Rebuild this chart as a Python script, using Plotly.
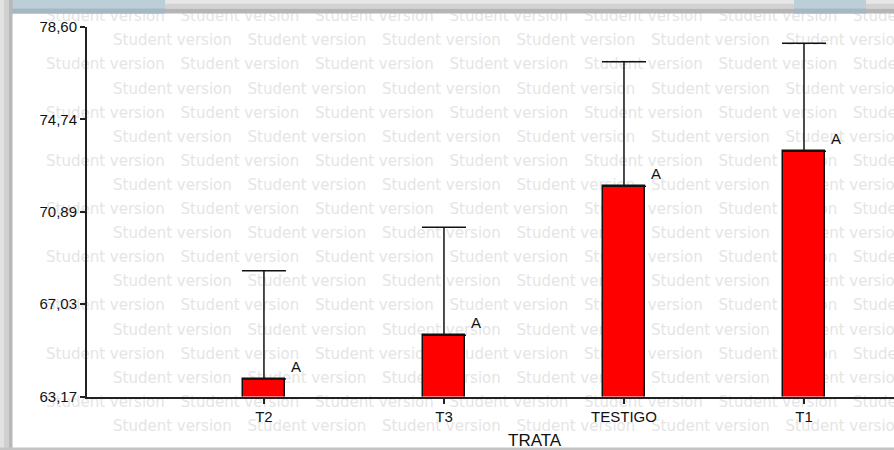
import plotly.graph_objects as go

# ---- data ----
categories = ["T2", "T3", "TESTIGO", "T1"]
means = [63.90, 65.73, 71.95, 73.41]
err_up = [4.52, 4.51, 5.20, 4.51]
letters = ["A", "A", "A", "A"]
ytick_vals = [63.17, 67.03, 70.89, 74.74, 78.60]
ytick_text = ["63,17", "67,03", "70,89", "74,74", "78,60"]
x_title = "TRATA"
watermark = "Student version"

W, H = 894, 450
xpos = list(range(len(categories)))

fig = go.Figure()

# ---- watermark (on a hidden full-figure subplot drawn beneath the chart) ----
wx, wy = [], []
for k in range(19):
    yk = 17.5 + 24.1 * k
    x0 = (46 - 134.5) if k % 2 == 0 else (113 - 134.5)
    x = x0
    while x < W:
        wx.append(x)
        wy.append(yk)
        x += 134.5
fig.add_trace(go.Scatter(
    x=wx, y=wy, mode="text", text=[watermark] * len(wx),
    textposition="middle right",
    textfont=dict(family="DejaVu Sans", size=15, color="#e5e5e5"),
    hoverinfo="skip", showlegend=False, xaxis="x", yaxis="y", cliponaxis=False))

# ---- bars ----
fig.add_trace(go.Bar(
    x=xpos, y=means, width=0.233,
    marker=dict(color="#ff0000", line=dict(color="#111111", width=1.5)),
    error_y=dict(type="data", symmetric=False, array=err_up,
                 arrayminus=[0] * len(err_up),
                 color="#111111", thickness=1.5, width=22),
    showlegend=False, xaxis="x2", yaxis="y2"))

for i, (m, l) in enumerate(zip(means, letters)):
    fig.add_annotation(x=xpos[i] + 0.14, y=m, xref="x2", yref="y2", text=l,
                       showarrow=False, xanchor="left", yanchor="bottom", yshift=2,
                       font=dict(family="Liberation Sans, Arial", size=15, color="#111111"))

fig.add_annotation(x=535 / W, y=1 - 440 / H, xref="paper", yref="paper", text=x_title,
                   showarrow=False, xanchor="center", yanchor="middle",
                   font=dict(family="Liberation Sans, Arial", size=17, color="#111111"))

# ---- frame decoration ----
shapes = []
def rect(x0, y0, x1, y1, c):
    shapes.append(dict(type="rect", xref="paper", yref="paper",
                       x0=x0 / W, x1=x1 / W, y0=1 - y1 / H, y1=1 - y0 / H,
                       fillcolor=c, line=dict(width=0), layer="above"))
rect(0, 0, W, 3.5, "#e6e6e6")
rect(0, 3.5, W, 8.5, "#d2d2d2")
rect(0, 8.5, W, 13.5, "#b5b5b5")
rect(0, 0, 165, 8.5, "#bccfd9")
rect(0, 8.5, 165, 13.5, "#a3b8c3")
rect(794, 0, 866, 8.5, "#bccfd9")
rect(794, 8.5, 866, 13.5, "#a3b8c3")
rect(0, 0, 4, H, "#e2e2e2")
rect(4, 0, 9, H, "#d0d0d0")
rect(9, 0, 12.5, H, "#b8b8b8")
rect(0, 447.5, W, H, "#c4c4c4")

axis_font = dict(family="Liberation Sans, Arial", size=15, color="#111111")

fig.update_layout(
    template="none",
    width=W, height=H, autosize=False,
    margin=dict(l=0, r=0, t=0, b=0, pad=0, autoexpand=False),
    paper_bgcolor="white", plot_bgcolor="rgba(0,0,0,0)",
    shapes=shapes,
    xaxis=dict(domain=[0, 1], range=[0, W], visible=False, fixedrange=True, automargin=False),
    yaxis=dict(domain=[0, 1], range=[H, 0], visible=False, fixedrange=True, automargin=False),
    xaxis2=dict(domain=[87 / W, 1], anchor="y2", range=[-0.983, 3.5], automargin=False,
                tickmode="array", tickvals=xpos, ticktext=categories,
                showline=True, linecolor="#222222", linewidth=2,
                ticks="outside", ticklen=5, tickwidth=1.5, tickcolor="#222222",
                showgrid=False, zeroline=False, tickfont=axis_font),
    yaxis2=dict(domain=[(H - 396.5) / H, (H - 27) / H], anchor="x2", automargin=False,
                range=[63.17, 78.60],
                tickmode="array", tickvals=ytick_vals, ticktext=ytick_text,
                showline=True, linecolor="#222222", linewidth=2,
                ticks="outside", ticklen=5, tickwidth=1.5, tickcolor="#222222",
                showgrid=False, zeroline=False, tickfont=axis_font),
    bargap=0,
)

page_css = (
    "document.documentElement.style.cssText='margin:0;padding:0;overflow:hidden;';"
    "document.body.style.cssText='margin:0;padding:0;overflow:hidden;';"
)
fig.write_html("out.html", config={"displayModeBar": False}, post_script=page_css)
